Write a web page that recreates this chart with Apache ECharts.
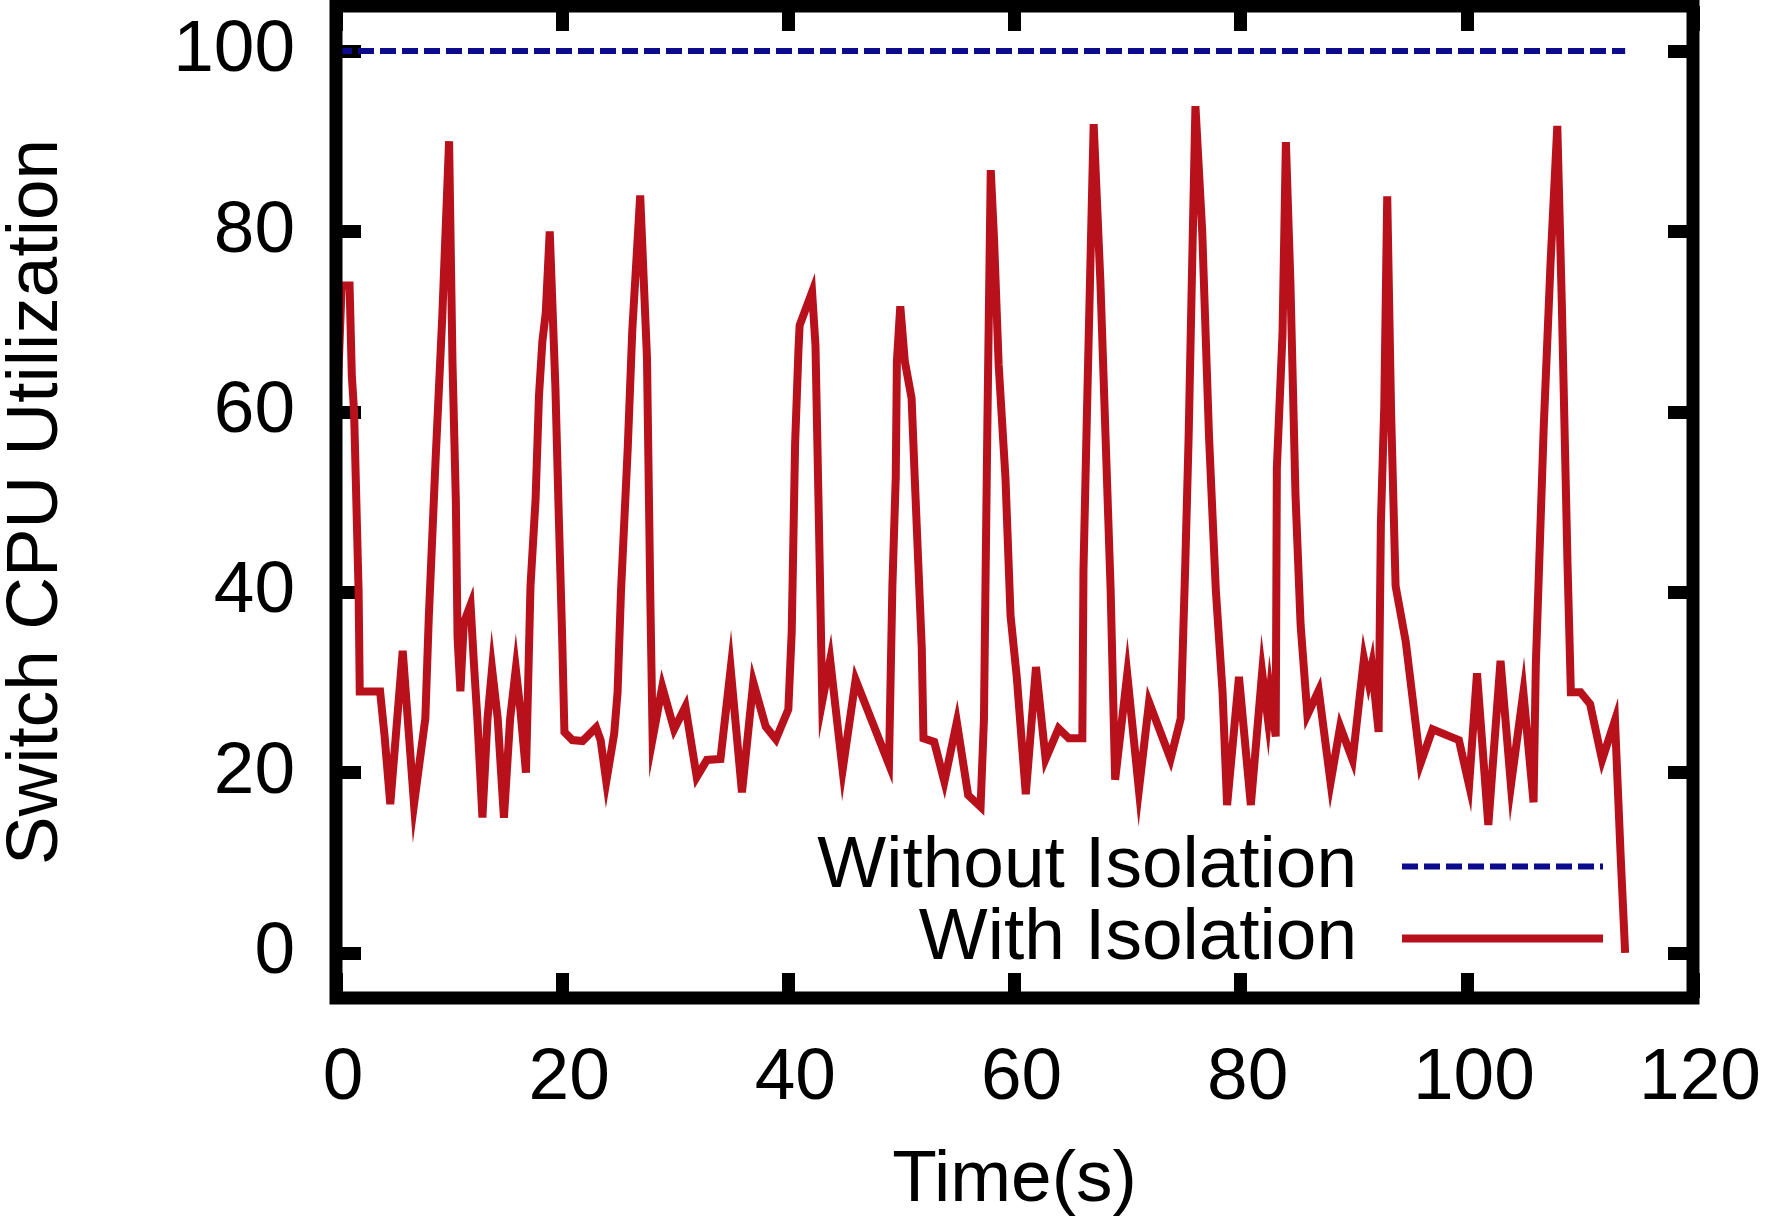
<!DOCTYPE html>
<html>
<head>
<meta charset="utf-8">
<script src="https://cdn.jsdelivr.net/npm/echarts@6/dist/echarts.min.js"></script>
<style>
  html, body { margin: 0; padding: 0; background: #fff; }
  #chart { width: 1766px; height: 1217px; }
</style>
</head>
<body>
<div id="chart"></div>
<script>
// ---- Data ----
const xTicks = [0, 20, 40, 60, 80, 100, 120];
const yTicks = [0, 20, 40, 60, 80, 100];

const withoutTimes = [0, 114];
const withoutValues = [100, 100];

const withTimes = [
  0, 0.5, 1.2, 1.4, 1.6, 2.0, 2.1, 3.9, 4.3, 4.8, 5.9, 6.9, 7.9, 8.2, 8.8, 9.4, 10.0,
  10.3, 10.6, 10.75, 11.0, 11.3, 11.9, 12.2, 12.5, 12.95, 13.4, 13.8, 14.3, 14.85, 15.4,
  15.9, 16.3, 16.8, 17.2, 17.65, 17.95, 18.25, 18.55, 18.9, 19.4, 19.7, 20.0, 20.2, 20.9,
  21.8, 23.0, 23.4, 23.9, 24.6, 24.9, 25.2, 25.8, 26.2, 26.9, 27.5, 27.8, 28.0, 28.85,
  29.9, 30.9, 31.9, 32.8, 34.0, 34.9, 35.9, 36.9, 38.0, 38.9, 40.0, 40.3, 40.6, 40.9,
  41.0, 42.1, 42.4, 42.7, 43.0, 43.7, 44.8, 45.95, 48.9, 49.2, 49.5, 49.6, 49.9, 50.3,
  50.9, 51.2, 51.8, 51.95, 52.9, 53.8, 54.9, 55.9, 57.0, 57.3, 57.45, 57.6, 57.9, 58.2,
  58.6, 59.2, 59.65, 60.2, 61.0, 61.9, 62.75, 63.9, 64.8, 66.0, 66.1, 66.4, 67.0, 67.6,
  68.05, 68.5, 68.9, 69.97, 71.0, 71.9, 73.8, 74.7, 75.1, 75.4, 76.0, 76.6, 77.2, 77.8,
  78.4, 78.8, 79.85, 80.9, 81.9, 82.4, 82.6, 83.1, 83.2, 83.7, 84.0, 84.4, 84.85, 85.3,
  85.9, 86.9, 87.95, 88.8, 89.9, 90.9, 91.3, 91.6, 92.2, 92.4, 92.7, 92.96, 93.3, 93.7,
  94.6, 95.9, 96.97, 98.7, 99.3, 100.2, 100.9, 101.9, 102.98, 103.9, 105.0, 105.9, 106.1,
  106.8, 107.4, 108.0, 108.4, 108.9, 109.2, 110.05, 110.9, 111.96, 113.1, 113.6, 114.0
];
const withValues = [
  57, 74, 74, 64, 60, 40, 29, 29, 24, 16.5, 33.5, 16.5, 26, 37, 54.5, 70.6, 90,
  65.5, 50, 35, 29, 36.6, 38.6, 32, 26, 15, 26, 31.5, 26, 15, 26,
  31.5, 27, 20, 40.7, 50.3, 61.8, 67.8, 71, 80, 62.8, 48.5, 35, 24.5, 23.6,
  23.5, 25, 23.6, 19, 24.3, 28.9, 40, 56, 69, 84, 66, 39, 23.8, 29.5,
  24.8, 27.3, 19.5, 21.4, 21.5, 31.5, 17.8, 30, 25.1, 23.7, 27, 35.6, 56.5, 67,
  69.6, 73.3, 67.4, 48, 27.9, 32.5, 20.3, 30.3, 20.9, 40.6, 52.8, 65.6, 71.7, 65.6,
  61.5, 52, 33.8, 23.8, 23.4, 19, 25.6, 17.5, 16.2, 26, 42.5, 58.4, 86.8, 78.9,
  65.2, 52.7, 37.4, 30.6, 17.6, 31.7, 21.5, 24.9, 23.8, 23.8, 42.5, 59.5, 91.9, 74.3,
  57.3, 40.3, 19.2, 30.9, 18.1, 27.8, 21.5, 26, 43, 57.3, 93.9, 80, 57.3, 40.3,
  28.9, 16.4, 30.6, 16.4, 31.1, 26, 28.9, 24, 53.8, 68.6, 89.9, 74.3, 50.7, 36.4,
  26.4, 29.1, 18.9, 25.1, 21.4, 32.6, 30.1, 31.9, 24.5, 47.6, 60.7, 83.9, 60.1, 40.7,
  34.5, 21, 24.8, 23.9, 23.6, 18.6, 31, 14.2, 32.4, 18.6, 28.9, 16.7, 31.9,
  58.3, 76.4, 91.7, 72, 43.3, 28.9, 28.9, 27.6, 21.4, 25.8, 10.8, 0
];

const seriesNames = ['Without Isolation', 'With Isolation'];
const xName = 'Time(s)';
const yName = 'Switch CPU Utilization';

// ---- Styling ----
const FONT = 'Liberation Sans';
const FS = 73;
const RED = '#b8111b';
const BLUE = '#0b0b8c';

const tickStyle = { show: true, inside: true, length: 25, lineStyle: { color: '#000', width: 13 } };
const noLine = { show: false, onZero: false };
const hiddenSymbol = { color: 'transparent', borderColor: 'transparent', borderWidth: 0, opacity: 0 };

const chart = echarts.init(document.getElementById('chart'), null, { renderer: 'canvas' });
chart.setOption({
  animation: false,
  backgroundColor: '#fff',
  grid: {
    left: 336, right: 73, top: 6, bottom: 219,
    containLabel: false,
    outerBoundsMode: 'none',
    show: true, borderWidth: 13, borderColor: '#000', backgroundColor: 'transparent',
    z: 10
  },
  legend: {
    orient: 'vertical',
    align: 'right',
    right: 159,
    top: 830,
    padding: 0,
    itemGap: -1,
    itemWidth: 201,
    itemHeight: 20,
    textStyle: { fontFamily: FONT, fontSize: FS, color: '#000', padding: [0, 40, 0, 0] },
    data: [
      { name: seriesNames[0], lineStyle: { width: 6, type: [16, 6], color: BLUE }, itemStyle: hiddenSymbol },
      { name: seriesNames[1], lineStyle: { width: 8, color: RED }, itemStyle: hiddenSymbol }
    ]
  },
  xAxis: [
    {
      type: 'value', position: 'bottom', min: xTicks[0], max: xTicks[xTicks.length - 1], interval: 20,
      axisLine: noLine, splitLine: { show: false },
      axisTick: tickStyle,
      axisLabel: { fontFamily: FONT, fontSize: FS, color: '#000', margin: 44, padding: [0, 0, 0, 14] },
      name: xName, nameLocation: 'middle', nameGap: 146,
      nameTextStyle: { fontFamily: FONT, fontSize: FS, color: '#000' }
    },
    {
      type: 'value', position: 'top', min: xTicks[0], max: xTicks[xTicks.length - 1], interval: 20,
      axisLine: noLine, splitLine: { show: false },
      axisTick: tickStyle, axisLabel: { show: false }
    }
  ],
  yAxis: [
    {
      type: 'value', position: 'left', min: -5, max: 105,
      axisLine: noLine, splitLine: { show: false },
      axisTick: Object.assign({}, tickStyle, { customValues: yTicks }),
      axisLabel: { fontFamily: FONT, fontSize: FS, color: '#000', margin: 41, customValues: yTicks },
      name: yName, nameLocation: 'middle', nameRotate: 90, nameGap: 263,
      nameTextStyle: { fontFamily: FONT, fontSize: FS, color: '#000' }
    },
    {
      type: 'value', position: 'right', min: -5, max: 105,
      axisLine: noLine, splitLine: { show: false },
      axisTick: Object.assign({}, tickStyle, { customValues: yTicks }),
      axisLabel: { show: false }
    }
  ],
  series: [
    {
      name: seriesNames[0], type: 'line', xAxisIndex: 0, yAxisIndex: 0,
      data: withoutTimes.map((t, i) => [t, withoutValues[i]]),
      symbol: 'none', showSymbol: false, lineStyle: { color: BLUE, width: 6, type: [16, 6] },
      itemStyle: { color: BLUE }
    },
    {
      name: seriesNames[1], type: 'line', xAxisIndex: 0, yAxisIndex: 0,
      data: withTimes.map((t, i) => [t, withValues[i]]),
      symbol: 'none', showSymbol: false, lineStyle: { color: RED, width: 8, join: 'miter' },
      itemStyle: { color: RED }
    }
  ]
});
</script>
</body>
</html>
